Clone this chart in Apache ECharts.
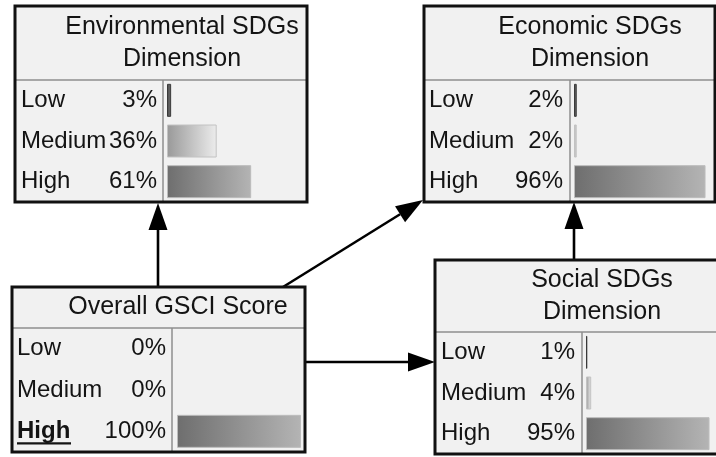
<!DOCTYPE html>
<html>
<head>
<meta charset="utf-8">
<script src="https://cdn.jsdelivr.net/npm/echarts@6/dist/echarts.min.js"></script>
<style>
  html, body { margin: 0; padding: 0; background: #ffffff; }
  #chart { width: 716px; height: 457px; }
</style>
</head>
<body>
<div id="chart"></div>
<script>
// ---- data ----
const categories = ['Low', 'Medium', 'High'];
const envTitle = 'Environmental SDGs\nDimension';
const econTitle = 'Economic SDGs\nDimension';
const overallTitle = 'Overall GSCI Score';
const socialTitle = 'Social SDGs\nDimension';
const envValues = [3, 36, 61];
const econValues = [2, 2, 96];
const overallValues = [0, 0, 100];
const socialValues = [1, 4, 95];
const overallFinding = 'High';

// ---- layout (positions / sizes only) ----
const FONT = '"Liberation Sans", Arial, sans-serif';
const boxes = [
  { title: envTitle, values: envValues, x: 15, y: 6, w: 292, h: 196, sep: 80, div: 163, barL: 167, barW: 138, nameL: 21, pctR: 157, tx: 182 },
  { title: econTitle, values: econValues, x: 424, y: 6, w: 291, h: 196, sep: 80, div: 570, barL: 574, barW: 137, nameL: 429, pctR: 563, tx: 590 },
  { title: overallTitle, values: overallValues, x: 12, y: 287, w: 293, h: 165, sep: 328, div: 172, barL: 177, barW: 124, nameL: 17, pctR: 166, tx: 178, finding: overallFinding },
  { title: socialTitle, values: socialValues, x: 435, y: 260, w: 292, h: 194, sep: 332, div: 582, barL: 586, barW: 137, nameL: 441, pctR: 575, tx: 602 }
];
const stateStyles = [
  { c0: '#4c4c4c', c1: '#6c6c6c', border: '#3a3a3a' },
  { c0: '#999999', c1: '#ececec', border: '#c2c2c2' },
  { c0: '#6e6e6e', c1: '#b4b4b4', border: '#bcbcbc' }
];

const grids = [], xAxes = [], yAxes = [], series = [], graphics = [];

boxes.forEach((b, gi) => {
  const bottom = b.y + b.h;
  graphics.push({ type: 'rect', z: 0, shape: { x: b.x, y: b.y, width: b.w, height: b.h },
    style: { fill: '#f1f1f1', stroke: null } });
  graphics.push({ type: 'line', z: 1, shape: { x1: b.x, y1: b.sep, x2: b.x + b.w, y2: b.sep },
    style: { stroke: '#8e8e8e', lineWidth: 1.5 } });
  graphics.push({ type: 'line', z: 1, shape: { x1: b.div, y1: b.sep, x2: b.div, y2: bottom },
    style: { stroke: '#8e8e8e', lineWidth: 1.5 } });
  graphics.push({ type: 'rect', z: 50, shape: { x: b.x, y: b.y, width: b.w, height: b.h },
    style: { fill: null, stroke: '#111111', lineWidth: 3 } });
  graphics.push({ type: 'text', z: 10, style: {
    text: b.title, x: b.tx, y: (b.y + b.sep) / 2, textAlign: 'center', textVerticalAlign: 'middle',
    font: '25px ' + FONT, fill: '#141414', lineHeight: 32 } });

  grids.push({ left: b.barL, top: b.sep, width: b.barW, height: bottom - b.sep, containLabel: false });
  xAxes.push({ gridIndex: gi, type: 'value', min: 0, max: 100, show: false });
  const labelW = b.pctR - b.nameL;
  const pctW = 62;
  yAxes.push({
    gridIndex: gi, type: 'category', data: categories, inverse: true,
    axisLine: { show: false }, axisTick: { show: false }, splitLine: { show: false },
    axisLabel: {
      margin: b.barL - b.pctR,
      formatter: (val, idx) => {
        const nameStyle = (b.finding && b.finding === val) ? 'b' : 'n';
        return '{' + nameStyle + '|' + val + '}{p|' + b.values[idx] + '%}';
      },
      rich: {
        n: { width: labelW - pctW, align: 'left', fontSize: 24, fontFamily: FONT, color: '#141414' },
        b: { width: labelW - pctW, align: 'left', fontSize: 24, fontWeight: 'bold', fontFamily: FONT, color: '#141414' },
        p: { width: pctW, align: 'right', fontSize: 24, fontFamily: FONT, color: '#141414' }
      }
    }
  });
  series.push({
    type: 'bar', xAxisIndex: gi, yAxisIndex: gi, barWidth: 33, z: 5,
    data: b.values.map((v, i) => ({
      value: v,
      itemStyle: {
        color: new echarts.graphic.LinearGradient(0, 0, 1, 0, [
          { offset: 0, color: stateStyles[i].c0 }, { offset: 1, color: stateStyles[i].c1 }]),
        borderColor: stateStyles[i].border,
        borderWidth: v > 0 ? 1 : 0
      }
    })),
    silent: true, animation: false
  });

  if (b.finding) {
    const idx = categories.indexOf(b.finding);
    const rowH = (bottom - b.sep) / categories.length;
    const cy = b.sep + rowH * (idx + 0.5);
    graphics.push({ type: 'line', z: 10, shape: { x1: b.nameL, y1: cy + 12, x2: b.nameL + 54, y2: cy + 12 },
      style: { stroke: '#141414', lineWidth: 2.2 } });
  }
});

function arrow(x1, y1, x2, y2) {
  const dx = x2 - x1, dy = y2 - y1, len = Math.sqrt(dx * dx + dy * dy);
  const ux = dx / len, uy = dy / len, hl = 27, hw = 9.5;
  const bx = x2 - ux * hl, by = y2 - uy * hl;
  graphics.push({ type: 'line', z: 20, shape: { x1: x1, y1: y1, x2: bx, y2: by },
    style: { stroke: '#000000', lineWidth: 2.6 } });
  graphics.push({ type: 'polygon', z: 20, shape: { points: [[x2, y2], [bx - uy * hw, by + ux * hw], [bx + uy * hw, by - ux * hw]] },
    style: { fill: '#000000' } });
}
arrow(158, 287, 158, 203);
arrow(283, 287, 423, 200);
arrow(305, 362, 435, 362);
arrow(574, 260, 574, 202);

const chart = echarts.init(document.getElementById('chart'), null, { renderer: 'canvas' });
chart.setOption({
  animation: false,
  backgroundColor: '#ffffff',
  grid: grids, xAxis: xAxes, yAxis: yAxes, series: series,
  graphic: { elements: graphics }
});
</script>
</body>
</html>
